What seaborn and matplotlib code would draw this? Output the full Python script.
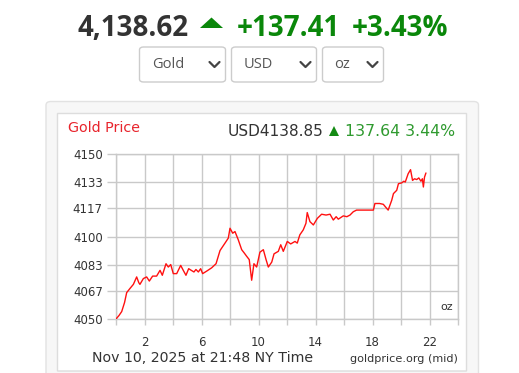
import matplotlib
matplotlib.use("Agg")
import matplotlib.pyplot as plt
import pandas as pd
import seaborn as sns
from matplotlib.patches import FancyBboxPatch, Polygon
from matplotlib.lines import Line2D

# price trace (hours since midnight NY, USD/oz)
hours = [0.0, 0.2, 0.4, 0.6, 0.75, 0.98, 1.22, 1.45, 1.6, 1.68, 1.92, 2.15,
         2.34, 2.57, 2.85, 3.09, 3.25, 3.51, 3.67, 3.84, 4.02, 4.26, 4.54,
         4.72, 4.91, 5.1, 5.28, 5.47, 5.61, 5.78, 5.94, 6.08, 6.36, 6.71,
         7.02, 7.3, 7.65, 7.88, 8.0, 8.19, 8.35, 8.58, 8.82, 9.0, 9.17, 9.35,
         9.52, 9.68, 9.87, 10.1, 10.34, 10.53, 10.69, 10.93, 11.09, 11.39,
         11.56, 11.74, 12.02, 12.26, 12.56, 12.72, 12.9, 13.14, 13.33, 13.42,
         13.61, 13.85, 14.13, 14.43, 14.74, 15.02, 15.25, 15.45, 15.6, 15.95,
         16.2, 16.42, 16.65, 16.88, 18.06, 18.17, 18.5, 18.76, 19.0, 19.1,
         19.35, 19.47, 19.7, 19.82, 20.05, 20.2, 20.3, 20.5, 20.67, 20.81,
         20.95, 21.1, 21.25, 21.4, 21.5, 21.57, 21.65, 21.75]
prices = [4050, 4052, 4054.5, 4060, 4066, 4068.5, 4071, 4075.5, 4072, 4071,
          4074.5, 4075.5, 4073, 4076, 4076, 4079.5, 4076.5, 4083.5, 4081.5,
          4083, 4077.5, 4077.5, 4082.5, 4079.5, 4076.5, 4080.5, 4079.5,
          4078.5, 4080, 4078.5, 4080.5, 4077.5, 4079, 4081, 4083.5, 4091.5,
          4096, 4099, 4105, 4102, 4103, 4098, 4092, 4090, 4088, 4086, 4073.5,
          4083.5, 4081.5, 4090.5, 4092, 4086, 4081.5, 4084.5, 4089.5, 4091,
          4095, 4091, 4097, 4095.5, 4097, 4096, 4101, 4104, 4108, 4114.5,
          4109, 4107, 4111, 4113.5, 4113, 4113.5, 4110, 4112, 4110.5, 4112.5,
          4112, 4113, 4115, 4116, 4116, 4120, 4120, 4119.5, 4117, 4116, 4122,
          4126, 4128, 4132, 4132.5, 4133.5, 4133, 4138, 4140.5, 4134, 4135,
          4134.5, 4135.5, 4133.5, 4135, 4130, 4136, 4138.5]

y_ticks = [4050, 4067, 4083, 4100, 4117, 4133, 4150]
x_ticks = list(range(0, 25, 2))
x_labels = ["2", "6", "10", "14", "18", "22"]
dropdowns = ["Gold", "USD", "oz"]

W, H = 519, 373
GREEN = "#0a870a"
GRID = "#c9c9c9"

sns.set_theme(style="white")
plt.rcParams["font.family"] = ["DejaVu Sans"]

fig = plt.figure(figsize=(W / 100, H / 100), dpi=100)
fig.patch.set_facecolor("white")


def fx(x):
    return x / W


def fy(y):
    return 1 - y / H


def box(x0, y0, x1, y1, fc, ec, r=4, lw=1.0, z=0):
    p = FancyBboxPatch((fx(x0), fy(y1)), fx(x1 - x0), (y1 - y0) / H,
                       boxstyle="round,pad=0,rounding_size=%f" % (r / W),
                       transform=fig.transFigure, fc=fc, ec=ec, lw=lw,
                       zorder=z)
    fig.patches.append(p)


# header quote
hdr = dict(fontsize=20, fontweight="bold", family="Open Sans", va="baseline")
fig.text(fx(78), fy(36.5), "4,138.62", color="#333333", **hdr)
fig.patches.append(Polygon([(fx(200), fy(28)), (fx(223), fy(28)),
                            (fx(211.5), fy(17.5))], closed=True,
                           transform=fig.transFigure, fc=GREEN, ec="none"))
fig.text(fx(237), fy(36.5), "+137.41", color=GREEN, **hdr)
fig.text(fx(352), fy(36.5), "+3.43%", color=GREEN, **hdr)

# dropdown selectors
dd_boxes = [(139.5, 225.5), (231.5, 316.5), (322.5, 383.5)]
dd_text_x = [152.5, 243.5, 334.5]
for (x0, x1), tx, name in zip(dd_boxes, dd_text_x, dropdowns):
    box(x0, 47, x1, 82, "white", "#cccccc", r=4)
    fig.text(fx(tx), fy(64.5), name, color="#555555", fontsize=10.5,
             family="Open Sans", va="center")
    cx = x1 - 11
    fig.lines.append(Line2D([fx(cx - 5), fx(cx), fx(cx + 5)],
                            [fy(62), fy(67), fy(62)],
                            transform=fig.transFigure, color="#444444",
                            lw=1.6, solid_capstyle="round"))

# chart card
box(46, 101.5, 478.5, 390, "#f7f7f7", "#e2e2e2", r=5)
box(57.5, 113.5, 466.5, 371, "white", "#dddddd", r=0, z=1)

fig.text(fx(68), fy(128.5), "Gold Price", color="#e8242c", fontsize=10.3,
         va="center", zorder=3)
fig.text(fx(228), fy(131), "USD4138.85", color="#333333", fontsize=11.1,
         va="center", zorder=3)
fig.patches.append(Polygon([(fx(329), fy(136)), (fx(339), fy(136)),
                            (fx(334), fy(126))], closed=True,
                           transform=fig.transFigure, fc="#138a13", ec="none",
                           zorder=3))
fig.text(fx(345), fy(131), "137.64 3.44%", color="#2f9a2f", fontsize=11.3,
         va="center", zorder=3)

ax = fig.add_axes([fx(116), fy(319), fx(458 - 116), (319 - 154) / H])
ax.set_zorder(2)
ax.patch.set_alpha(0)

df = pd.DataFrame({"hour": hours, "price": prices})
sns.lineplot(data=df, x="hour", y="price", color="#ff1010", lw=1.0, ax=ax,
             zorder=3)

ax.set_xlim(0, 24)
ax.set_ylim(4050, 4150)
ax.set_xticks(x_ticks)
ax.set_xticklabels([str(t) if str(t) in x_labels else "" for t in x_ticks])
ax.set_yticks(y_ticks)
ax.set_yticklabels([str(t) for t in y_ticks])
ax.grid(True, color=GRID, lw=1.0)
for s in ax.spines.values():
    s.set_color(GRID)
    s.set_linewidth(1.0)
ax.tick_params(axis="y", direction="out", length=6.5, width=1.0,
               color=GRID, labelsize=8.5, labelcolor="#333333", pad=3,
               left=True)
ax.tick_params(axis="x", direction="out", length=4.5, width=1.0,
               color=GRID, labelsize=8.5, labelcolor="#333333", pad=7.5,
               bottom=True)
ax.set_xlabel("")
ax.set_ylabel("")
ax.text(0.985, 0.04, "oz", transform=ax.transAxes, ha="right", va="bottom",
        fontsize=8, color="#333333")

fig.text(fx(91.5), fy(358.5), "Nov 10, 2025 at 21:48 NY Time",
         color="#333333", fontsize=10.2, va="center", zorder=3)
fig.text(fx(457.5), fy(358.5), "goldprice.org (mid)", color="#333333",
         fontsize=8.1, va="center", ha="right", zorder=3)

fig.savefig("out.png", dpi=100)
